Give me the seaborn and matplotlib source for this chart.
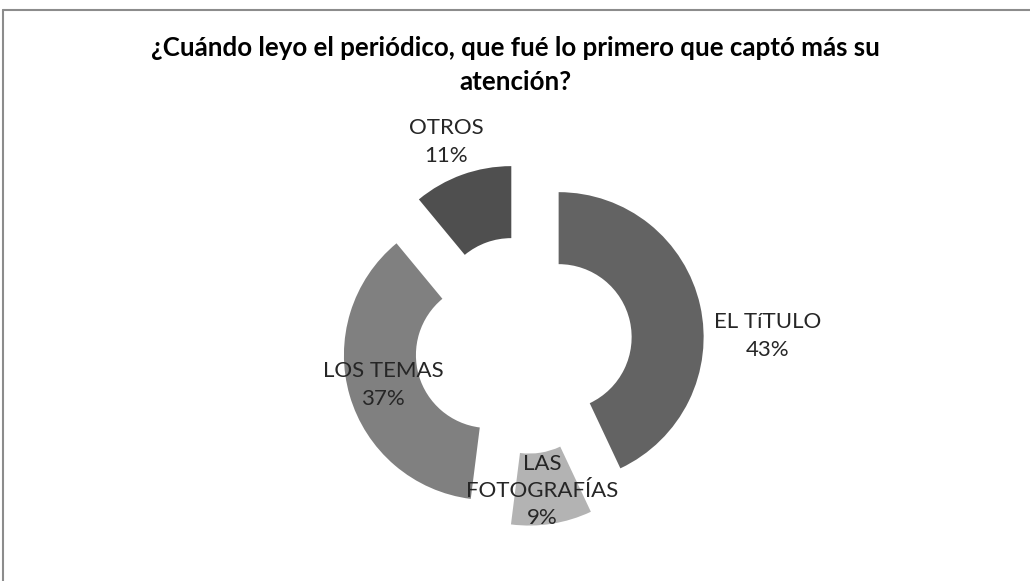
import matplotlib
matplotlib.use('Agg')
import matplotlib.pyplot as plt
import seaborn as sns

# data
categories = ['EL TíTULO', 'LAS\nFOTOGRAFÍAS', 'LOS TEMAS', 'OTROS']
shares = [43, 9, 37, 11]
colors = ['#636363', '#b3b3b3', '#808080', '#4f4f4f']
title_lines = ['¿Cuándo leyo el periódico, que fué lo primero que captó más su',
               'atención?']

sns.set_theme(style='white')
plt.rcParams['font.family'] = ['Lato', 'DejaVu Sans']

W, H = 1030, 581
fig = plt.figure(figsize=(W / 100, H / 100), dpi=100)
ax = fig.add_axes([0, 0, 1, 1])

# donut, exploded, in pixel-like data units
R = 145
wedges, texts = ax.pie(
    shares, colors=colors, startangle=90, counterclock=False,
    center=(523.5, H - 345), radius=R, explode=[36] * len(shares),
    wedgeprops=dict(width=72, linewidth=0), frame=True,
)
ax.set_xlim(0, W)
ax.set_ylim(0, H)
ax.set_aspect('equal')
ax.axis('off')

# data labels (Excel-style placement)
label_pos = [(768, H - 336), (542, H - 491), (383, H - 385), (446, H - 142)]
for cat, val, (x, y) in zip(categories, shares, label_pos):
    ax.text(x, y, f'{cat}\n{val}%', ha='center', va='center',
            fontsize=16, color='#262626', linespacing=1.45)

for i, line in enumerate(title_lines):
    fig.text(515 / W, 1 - (48 + 34 * i) / H, line, ha='center', va='center',
             fontsize=18.6, fontweight='bold', color='black')

# chart frame (top and left edges visible)
ax.plot([3, W], [H - 10, H - 10], color='#8c8c8c', lw=1.5, clip_on=False)
ax.plot([3, 3], [0, H - 10], color='#8c8c8c', lw=1.5, clip_on=False)

fig.savefig('out.png', dpi=100)
